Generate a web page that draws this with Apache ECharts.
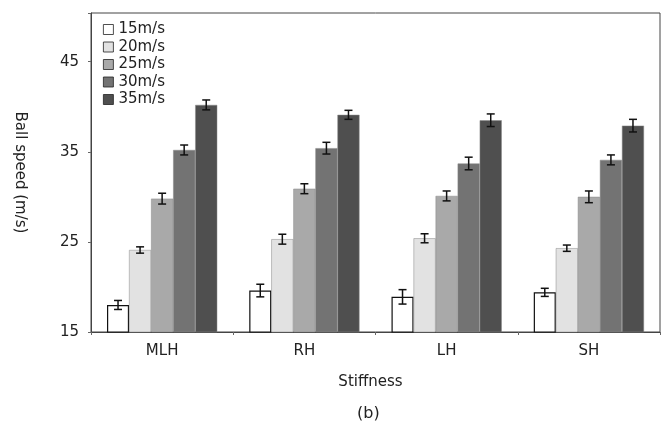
<!DOCTYPE html>
<html>
<head>
<meta charset="utf-8">
<script src="https://cdn.jsdelivr.net/npm/echarts@6/dist/echarts.min.js"></script>
<style>
  * { margin: 0; padding: 0; }
  body { background: #fff; }
</style>
</head>
<body>
<div id="main" style="width:670px;height:432px;"></div>
<script>
// 刚度类别
var categories = ['MLH', 'RH', 'LH', 'SH'];
var seriesNames = ['15m/s', '20m/s', '25m/s', '30m/s', '35m/s'];
// 每个速度下的平均球速
var speed15 = [18.0, 19.6, 18.9, 19.4];
var speed20 = [24.1, 25.3, 25.4, 24.3];
var speed25 = [29.8, 30.9, 30.1, 30.0];
var speed30 = [35.2, 35.4, 33.7, 34.1];
var speed35 = [40.2, 39.1, 38.5, 37.9];
// 误差（±）
var err15 = [0.5, 0.7, 0.8, 0.45];
var err20 = [0.35, 0.55, 0.5, 0.35];
var err25 = [0.6, 0.55, 0.55, 0.65];
var err30 = [0.55, 0.65, 0.7, 0.55];
var err35 = [0.55, 0.5, 0.7, 0.7];
var yTicks = [15, 25, 35, 45];

var means = [speed15, speed20, speed25, speed30, speed35];
var errs = [err15, err20, err25, err30, err35];
var colors = ['#ffffff', '#e2e2e2', '#a9a9a9', '#737373', '#4f4f4f'];
var FONT = 'DejaVu Sans';
var catGap = 0.225;

var series = [];
seriesNames.forEach(function (name, i) {
  series.push({
    name: name,
    type: 'bar',
    barGap: 0,
    barCategoryGap: (catGap * 100) + '%',
    itemStyle: {
      color: colors[i],
      borderColor: i === 0 ? '#111' : '#888',
      borderWidth: i === 0 ? 1.2 : 0.5
    },
    data: means[i]
  });
});

// 误差线
var errData = [];
means.forEach(function (arr, i) {
  arr.forEach(function (v, j) {
    errData.push([j, v - errs[i][j], v + errs[i][j], i]);
  });
});
series.push({
  type: 'custom',
  silent: true,
  z: 10,
  renderItem: function (params, api) {
    var cat = api.value(0);
    var idx = api.value(3);
    var band = api.size([1, 0])[0];
    var barW = band * (1 - catGap) / 5;
    var c = api.coord([cat, api.value(1)]);
    var x = c[0] + (idx - 2) * barW;
    var lo = api.coord([cat, api.value(1)])[1];
    var hi = api.coord([cat, api.value(2)])[1];
    var h = 4;
    var st = { stroke: '#111', lineWidth: 1.5 };
    return {
      type: 'group',
      children: [
        { type: 'line', shape: { x1: x, y1: lo, x2: x, y2: hi }, style: st },
        { type: 'line', shape: { x1: x - h, y1: lo, x2: x + h, y2: lo }, style: st },
        { type: 'line', shape: { x1: x - h, y1: hi, x2: x + h, y2: hi }, style: st }
      ]
    };
  },
  data: errData
});

var chart = echarts.init(document.getElementById('main'));
chart.setOption({
  animation: false,
  backgroundColor: '#fff',
  textStyle: { fontFamily: FONT },
  grid: {
    left: 91, right: 10, top: 13, bottom: 100,
    show: true, borderColor: '#444', borderWidth: 1
  },
  legend: {
    orient: 'vertical',
    left: 98, top: 17,
    icon: 'rect',
    itemWidth: 10, itemHeight: 10, itemGap: 2.5,
    data: seriesNames,
    textStyle: { fontSize: 15, lineHeight: 15, color: '#222', fontFamily: FONT },
    itemStyle: { borderColor: '#222', borderWidth: 0.8 }
  },
  xAxis: {
    type: 'category',
    data: categories,
    name: 'Stiffness',
    nameLocation: 'middle',
    nameGap: 43,
    nameTextStyle: { fontSize: 15, color: '#222', padding: [0, 10, 0, 0] },
    axisLine: { lineStyle: { color: '#444', width: 1 } },
    axisTick: { show: true, length: 3, lineStyle: { color: '#666' } },
    axisLabel: { fontSize: 15, color: '#222', margin: 12 }
  },
  yAxis: {
    type: 'value',
    min: 15, max: 50.4, interval: 10,
    name: 'Ball speed (m/s)',
    nameLocation: 'middle',
    nameRotate: -90,
    nameGap: 64,
    nameTextStyle: { fontSize: 15, color: '#222' },
    axisLine: { show: true, lineStyle: { color: '#444', width: 1 } },
    axisTick: { show: true, length: 3, lineStyle: { color: '#666' } },
    splitLine: { show: false },
    axisLabel: {
      fontSize: 15, color: '#222', margin: 12,
      formatter: function (v) { return yTicks.indexOf(v) >= 0 ? v : ''; }
    }
  },
  graphic: [{
    type: 'text',
    left: 357,
    top: 406,
    style: { text: '(b)', fontSize: 16, fill: '#222', fontFamily: FONT }
  }],
  series: series
});
</script>
</body>
</html>
